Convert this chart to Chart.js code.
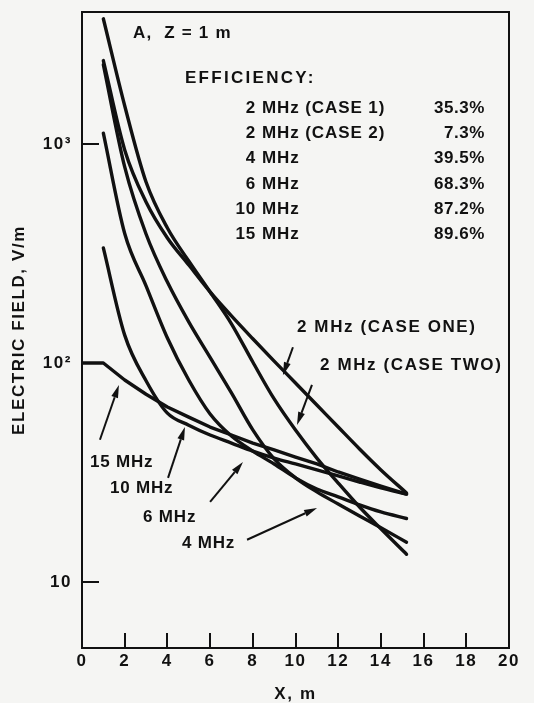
<!DOCTYPE html>
<html>
<head>
<meta charset="utf-8">
<script src="https://cdn.jsdelivr.net/npm/chart.js@4/dist/chart.umd.min.js"></script>
<style>
  html, body { margin: 0; padding: 0; background: #f5f5f3; }
  #wrap { width: 534px; height: 703px; }
  canvas { display: block; }
</style>
</head>
<body>
<div id="wrap"><canvas id="c" width="534" height="703"></canvas></div>
<script>
// ---------- data ----------
const distance   = [1, 2, 3, 4, 5, 6, 7, 8, 9, 10, 11, 12, 13, 14, 15.2];          // X, m
const distance15 = [0, 1, 2, 3, 4, 5, 6, 7, 8, 9, 10, 11, 12, 13, 14, 15.2];

const field2MHzCaseOne = [2400, 939, 543, 372, 280, 211, 164, 129, 102, 81, 64.3, 51, 40.5, 32.5, 25.5];
const field2MHzCaseTwo = [3725, 1493, 670, 413, 292, 211, 151, 101, 68.5, 49.4, 36.8, 28.3, 22, 17.5, 13.4];
const field4MHz  = [2300, 785, 388, 234, 154, 106, 73, 49.5, 36.5, 29.9, 25.8, 22.7, 20, 17.7, 15.2];
const field6MHz  = [1120, 390, 225, 130, 83.6, 58.5, 46.4, 39.6, 34.6, 29.9, 26.6, 24.5, 22.5, 20.9, 19.5];
const field10MHz = [335, 134, 83, 59, 52, 46.9, 43.1, 39.6, 36.8, 34.6, 32.5, 30.5, 28.6, 26.9, 25.2];
const field15MHz = [100, 100, 83.6, 72, 63, 56.6, 51, 46.9, 43.1, 40.1, 37.2, 34.6, 31.8, 29.5, 27.4, 25.2];

const xTickStep   = 2;
const xMin = 0, xMax = 20;
const yMin = 5, yMax = 4000;
const yTickValues = [10, 100, 1000];
const yTickLabels = ['10', '10²', '10³'];

const headerText      = 'A,  Z = 1 m';
const efficiencyTitle = 'EFFICIENCY:';
const efficiencyFreq  = ['2', '2', '4', '6', '10', '15'];
const efficiencyUnit  = ['MHz (CASE 1)', 'MHz (CASE 2)', 'MHz', 'MHz', 'MHz', 'MHz'];
const efficiencyValue = ['35.3%', '7.3%', '39.5%', '68.3%', '87.2%', '89.6%'];

const curveLabels = ['2 MHz (CASE ONE)', '2 MHz (CASE TWO)', '15 MHz', '10 MHz', '6 MHz', '4 MHz'];
// annotation anchors in data units (x in m, y in V/m)
const labelAt   = [[10.07, 145], [11.15, 98], [0.37, 35.3], [1.31, 26.9], [2.86, 19.8], [4.68, 15.1]];
const arrowFrom = [[9.88, 118], [10.77, 79.4], [0.84, 44.6], [4.03, 29.9], [6.0, 23.2], [7.73, 15.6]];
const arrowTo   = [[9.41, 88], [10.07, 52.1], [1.73, 79.4], [4.82, 51], [7.54, 35.3], [11.01, 21.8]];
const headerAt     = [2.39, 3207];
const efficiencyAt = [4.82, 2000];
const tableFreqX   = 8.15;
const tablePctX    = 18.88;

// ---------- drawing ----------
const INK = '#111111';
const FONT = "'Liberation Sans', Arial, sans-serif";

function pts(xs, ys) { return ys.map((v, i) => ({ x: xs[i], y: v })); }
function ds(label, xs, ys, straight) {
  return { label, data: pts(xs, ys), borderColor: INK, backgroundColor: INK,
           borderWidth: 3.4, pointRadius: 0, fill: false,
           cubicInterpolationMode: straight ? 'default' : 'monotone',
           tension: straight ? 0 : 0.4,
           borderCapStyle: 'round', borderJoinStyle: 'round' };
}

const decor = {
  id: 'decor',
  beforeDraw(chart) { chart.ctx.letterSpacing = '1.6px'; },
  afterDraw(chart) {
    const { ctx, chartArea: a, scales: { x, y } } = chart;
    const px = v => x.getPixelForValue(v);
    const py = v => y.getPixelForValue(v);
    ctx.save();
    ctx.strokeStyle = INK; ctx.fillStyle = INK;
    ctx.lineWidth = 2;
    ctx.strokeRect(a.left, a.top, a.right - a.left, a.bottom - a.top);
    // inside tick marks
    ctx.beginPath();
    for (let v = xMin + xTickStep; v < xMax; v += xTickStep) {
      const X = Math.round(px(v));
      ctx.moveTo(X, a.bottom); ctx.lineTo(X, a.bottom - 15);
    }
    yTickValues.forEach(v => {
      const Y = Math.round(py(v));
      ctx.moveTo(a.left, Y); ctx.lineTo(a.left + 17, Y);
    });
    ctx.stroke();

    function text(str, X, Y, align, size, spacing) {
      ctx.font = 'bold ' + size + 'px ' + FONT;
      ctx.letterSpacing = spacing + 'px';
      ctx.textAlign = align;
      ctx.textBaseline = 'middle';
      ctx.fillText(str, X, Y);
    }
    // header + efficiency table
    text(headerText, px(headerAt[0]), py(headerAt[1]), 'left', 17, 1.2);
    const ey = py(efficiencyAt[1]);
    text(efficiencyTitle, px(efficiencyAt[0]), ey, 'left', 17, 2.3);
    efficiencyFreq.forEach((f, i) => {
      const Y = ey + 30 + i * 25.3;
      text(f, px(tableFreqX), Y, 'right', 17, 0.8);
      text(efficiencyUnit[i], px(tableFreqX) + 6, Y, 'left', 17, 0.9);
      text(efficiencyValue[i], px(tablePctX), Y, 'right', 17, 0.6);
    });
    // curve labels
    curveLabels.forEach((s, i) => {
      text(s, px(labelAt[i][0]), py(labelAt[i][1]), 'left', 17, i < 2 ? 1.6 : 0.8);
    });
    // arrows
    arrowFrom.forEach((f, i) => {
      const x1 = px(f[0]), y1 = py(f[1]);
      const x2 = px(arrowTo[i][0]), y2 = py(arrowTo[i][1]);
      const ang = Math.atan2(y2 - y1, x2 - x1);
      const L = 13, W = 3.5;
      const bx = x2 - L * Math.cos(ang), by = y2 - L * Math.sin(ang);
      ctx.lineWidth = 2;
      ctx.beginPath(); ctx.moveTo(x1, y1); ctx.lineTo(bx, by); ctx.stroke();
      ctx.beginPath();
      ctx.moveTo(x2, y2);
      ctx.lineTo(bx + W * Math.sin(ang), by - W * Math.cos(ang));
      ctx.lineTo(bx - W * Math.sin(ang), by + W * Math.cos(ang));
      ctx.closePath(); ctx.fill();
    });
    ctx.restore();
  }
};

new Chart(document.getElementById('c').getContext('2d'), {
  type: 'line',
  data: {
    datasets: [
      ds('2 MHz (case one)', distance, field2MHzCaseOne),
      ds('2 MHz (case two)', distance, field2MHzCaseTwo),
      ds('4 MHz', distance, field4MHz),
      ds('6 MHz', distance, field6MHz),
      ds('10 MHz', distance, field10MHz),
      ds('15 MHz', distance15, field15MHz, true)
    ]
  },
  options: {
    responsive: false,
    animation: false,
    devicePixelRatio: 1,
    layout: { padding: { top: 12, right: 25, left: 0, bottom: 0 } },
    plugins: { legend: { display: false }, tooltip: { enabled: false } },
    scales: {
      x: {
        type: 'linear', min: xMin, max: xMax,
        grid: { display: false, drawTicks: false },
        border: { display: false },
        ticks: { stepSize: xTickStep, padding: 3, color: INK, maxRotation: 0,
                 font: { family: FONT, size: 17, weight: 'bold' } },
        title: { display: true, text: 'X, m', color: INK, padding: { top: 0, bottom: 0 },
                 font: { family: FONT, size: 17, weight: 'bold', lineHeight: 1 } },
        afterFit(s) { s.height = 55; s.paddingLeft = 0; s.paddingRight = 0; }
      },
      y: {
        type: 'logarithmic', min: yMin, max: yMax,
        grid: { display: false, drawTicks: false },
        border: { display: false },
        afterBuildTicks(s) { s.ticks = yTickValues.map(v => ({ value: v, major: true })); },
        ticks: {
          padding: 10, color: INK, font: { family: FONT, size: 17, weight: 'bold' },
          callback(v) { const i = yTickValues.indexOf(v); return i >= 0 ? yTickLabels[i] : ''; }
        },
        title: { display: true, text: 'ELECTRIC FIELD, V/m', color: INK, padding: { top: 9, bottom: 0 },
                 font: { family: FONT, size: 17, weight: 'bold', lineHeight: 1.2 } },
        afterFit(s) { s.width = 82; s.paddingTop = 0; s.paddingBottom = 0; }
      }
    }
  },
  plugins: [decor]
});
</script>
</body>
</html>
